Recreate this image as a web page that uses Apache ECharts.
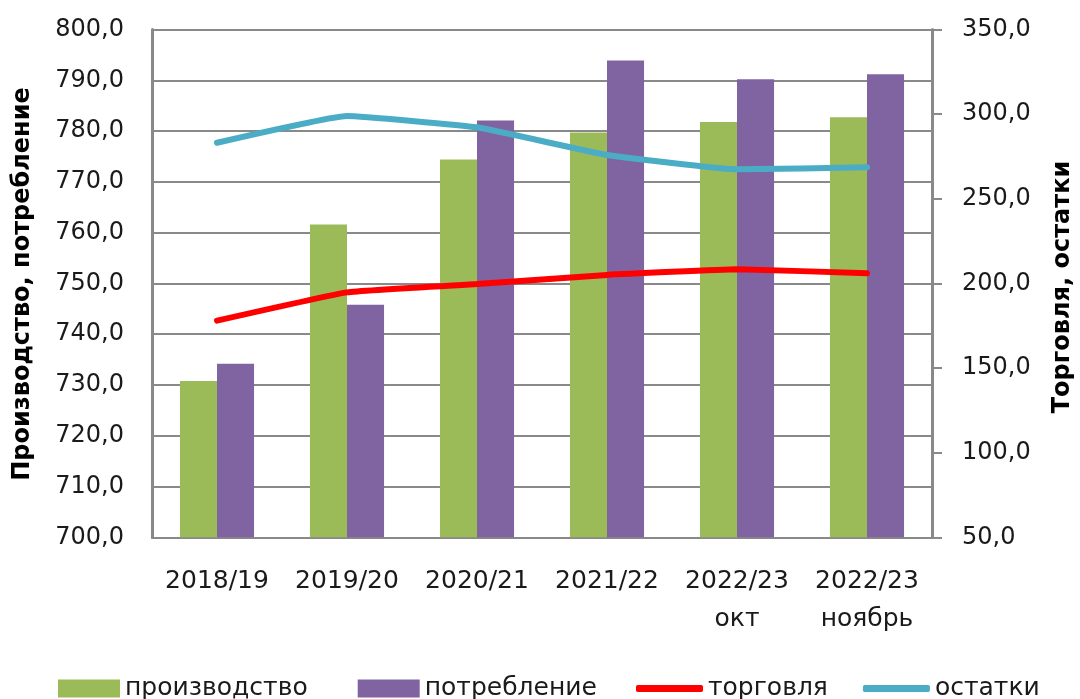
<!DOCTYPE html>
<html><head><meta charset="utf-8">
<script src="https://cdn.jsdelivr.net/npm/echarts@6/dist/echarts.min.js"></script>
<style>html,body{margin:0;padding:0;background:#fff}#c{width:1080px;height:699px}</style>
</head><body><div id="c"></div>
<script>
const categories = ['2018/19', '2019/20', '2020/21', '2021/22', '2022/23\nокт', '2022/23\nноябрь'];
const production = [730.8, 761.6, 774.4, 779.7, 781.8, 782.7];
const consumption = [734.2, 745.8, 782.1, 793.9, 790.2, 791.2];
const trade = [178.0, 194.7, 199.6, 205.0, 208.3, 206.0];
const stocks = [283.1, 298.9, 292.2, 275.9, 267.4, 268.6];
const leftMin = 700, leftMax = 800, leftStep = 10;
const rightMin = 50, rightMax = 350, rightStep = 50;
const seriesNames = ['производство', 'потребление', 'торговля', 'остатки'];
const leftTitle = 'Производство, потребление';
const rightTitle = 'Торговля, остатки';

const FONT = 'DejaVu Sans';
const fmt = v => v.toFixed(1).replace('.', ',');
const chart = echarts.init(document.getElementById('c'), null, {renderer: 'canvas'});
chart.setOption({
  animation: false,
  backgroundColor: '#ffffff',
  grid: {left: 152, right: 148, top: 29.5, bottom: 161.7, containLabel: false},
  xAxis: {
    type: 'category', data: categories,
    axisLine: {show: true, lineStyle: {color: '#898989', width: 2}},
    axisTick: {show: false},
    axisLabel: {interval: 0, color: '#1a1a1a', fontFamily: FONT, fontSize: 25, lineHeight: 38, margin: 25}
  },
  yAxis: [{
    type: 'value', min: leftMin, max: leftMax, interval: leftStep,
    axisLine: {show: true, lineStyle: {color: '#898989', width: 3}},
    axisTick: {show: false},
    splitLine: {show: true, lineStyle: {color: '#898989', width: 2}},
    axisLabel: {formatter: fmt, color: '#1a1a1a', fontFamily: FONT, fontSize: 24, margin: 28}
  }, {
    type: 'value', min: rightMin, max: rightMax, interval: rightStep, position: 'right',
    axisLine: {show: true, lineStyle: {color: '#898989', width: 3}},
    axisTick: {show: true, inside: false, length: 10, lineStyle: {color: '#898989', width: 2}},
    splitLine: {show: false},
    axisLabel: {formatter: fmt, color: '#1a1a1a', fontFamily: FONT, fontSize: 24, margin: 30}
  }],
  legend: [{
    data: [seriesNames[0], seriesNames[1]],
    left: 58, top: 676, padding: 0, icon: 'rect', itemWidth: 62, itemHeight: 18, itemGap: 50,
    textStyle: {fontFamily: FONT, fontSize: 25, color: '#1a1a1a'}
  }, {
    data: [seriesNames[2], seriesNames[3]],
    left: 636, top: 676, padding: 0, icon: 'roundRect', itemWidth: 67, itemHeight: 7, itemGap: 35,
    textStyle: {fontFamily: FONT, fontSize: 25, color: '#1a1a1a'}
  }],
  graphic: [{
    type: 'text', z: 10, x: 23, y: 284, rotation: Math.PI / 2,
    style: {text: leftTitle, fontFamily: FONT, fontWeight: 'bold', fontSize: 24, fill: '#000', align: 'center', verticalAlign: 'middle'}
  }, {
    type: 'text', z: 10, x: 1063, y: 287, rotation: Math.PI / 2,
    style: {text: rightTitle, fontFamily: FONT, fontWeight: 'bold', fontSize: 24, fill: '#000', align: 'center', verticalAlign: 'middle'}
  }],
  series: [{
    name: seriesNames[0], type: 'bar', data: production, yAxisIndex: 0,
    itemStyle: {color: '#9BBB59'}, barGap: '0%', barCategoryGap: '43%'
  }, {
    name: seriesNames[1], type: 'bar', data: consumption, yAxisIndex: 0,
    itemStyle: {color: '#8064A2'}
  }, {
    name: seriesNames[2], type: 'line', data: trade, yAxisIndex: 1, smooth: 0.1,
    symbol: 'none', itemStyle: {color: '#FF0000'}, lineStyle: {color: '#FF0000', width: 6, cap: 'round'}
  }, {
    name: seriesNames[3], type: 'line', data: stocks, yAxisIndex: 1, smooth: 0.1,
    symbol: 'none', itemStyle: {color: '#4BACC6'}, lineStyle: {color: '#4BACC6', width: 6, cap: 'round'}
  }]
});
</script></body></html>
